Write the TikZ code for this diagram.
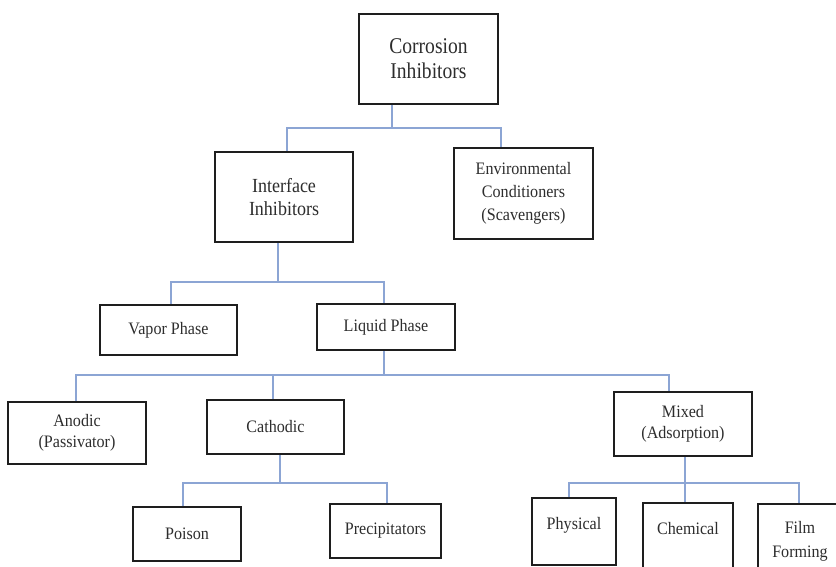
\documentclass[tikz,border=0pt]{standalone}
\usepackage{fontspec}
\setmainfont{Liberation Serif}
\newfontfamily\fbig[FakeStretch=0.87]{Liberation Serif}
\newfontfamily\fmid[FakeStretch=0.9]{Liberation Serif}
\newfontfamily\fsmall[FakeStretch=0.92]{Liberation Serif}
\definecolor{connc}{RGB}{140,165,212}
\definecolor{boxc}{RGB}{30,30,30}
\definecolor{txtc}{RGB}{45,45,45}
\begin{document}
\begin{tikzpicture}[x=1pt,y=-1pt,
  box/.style={draw=boxc, line width=2pt, inner sep=0pt, align=center, text=txtc,
    font=\fsmall\fontsize{17.5pt}{21.5pt}\selectfont},
  bigbox/.style={box, font=\fbig\fontsize{22.5pt}{25pt}\selectfont},
  midbox/.style={box, font=\fmid\fontsize{20pt}{23pt}\selectfont},
  envbox/.style={box, font=\fsmall\fontsize{17.5pt}{23pt}\selectfont},
  conn/.style={draw=connc, line width=1.2pt}]
\clip (0,0) rectangle (836,567);
\fill[white] (0,0) rectangle (836,567);

% boxes
\node[bigbox, minimum width=139pt, minimum height=90pt] (corr) at (428.5,59) {Corrosion\\Inhibitors};
\node[midbox, minimum width=138pt, minimum height=90pt] (int) at (284,197) {Interface\\Inhibitors};
\node[envbox, minimum width=139pt, minimum height=91pt] (env) at (523.5,193.5) {Environmental\\Conditioners\\(Scavengers)};
\node[box, minimum width=137pt, minimum height=50pt] (vap) at (168.5,330) {Vapor Phase};
\node[box, minimum width=138pt, minimum height=46pt] (liq) at (386,327) {Liquid Phase};
\node[box, minimum width=138pt, minimum height=62pt] (ano) at (77,433) {Anodic\\(Passivator)};
\node[box, minimum width=137pt, minimum height=54pt] (cat) at (275.5,427) {Cathodic};
\node[box, minimum width=138pt, minimum height=64pt] (mix) at (683,424) {Mixed\\(Adsorption)};
\node[box, minimum width=108pt, minimum height=54pt] (poi) at (187,534) {Poison};
\node[box, minimum width=111pt, minimum height=54pt] (pre) at (385.5,531) {Precipitators};
\node[box, minimum width=84pt, minimum height=67pt, text height=31pt, text depth=36pt] (phy) at (574,531.5) {Physical};
\node[box, minimum width=90pt, minimum height=77pt, text height=31pt, text depth=46pt] (che) at (688,541.5) {Chemical};
\node[box, minimum width=84pt, minimum height=74pt, font=\fsmall\fontsize{17.5pt}{24pt}\selectfont] (fil) at (800,541) {Film\\Forming};

% level 1
\coordinate (j1) at (392,128);
\coordinate (j1l) at (287,128);
\coordinate (j1r) at (501,128);
\draw[conn] (corr.south -| j1) -- (j1);
\draw[conn] (int.north -| j1l) -- (j1l) -- (j1r) -- (env.north -| j1r);

% level 2
\coordinate (j2) at (278,282);
\coordinate (j2l) at (171,282);
\coordinate (j2r) at (384,282);
\draw[conn] (int.south -| j2) -- (j2);
\draw[conn] (vap.north -| j2l) -- (j2l) -- (j2r) -- (liq.north -| j2r);

% level 3
\coordinate (j3) at (384,375);
\coordinate (j3a) at (76,375);
\coordinate (j3c) at (273,375);
\coordinate (j3m) at (669,375);
\draw[conn] (liq.south -| j3) -- (j3);
\draw[conn] (ano.north -| j3a) -- (j3a) -- (j3m) -- (mix.north -| j3m);
\draw[conn] (j3c) -- (cat.north -| j3c);

% level 4a
\coordinate (j4) at (280,483);
\coordinate (j4l) at (183,483);
\coordinate (j4r) at (387,483);
\draw[conn] (cat.south -| j4) -- (j4);
\draw[conn] (poi.north -| j4l) -- (j4l) -- (j4r) -- (pre.north -| j4r);

% level 4b
\coordinate (j5) at (685,483);
\coordinate (j5l) at (569,483);
\coordinate (j5r) at (799,483);
\draw[conn] (mix.south -| j5) -- (j5);
\draw[conn] (phy.north -| j5l) -- (j5l) -- (j5r) -- (fil.north -| j5r);
\draw[conn] (j5) -- (che.north -| j5);
\end{tikzpicture}
\end{document}
